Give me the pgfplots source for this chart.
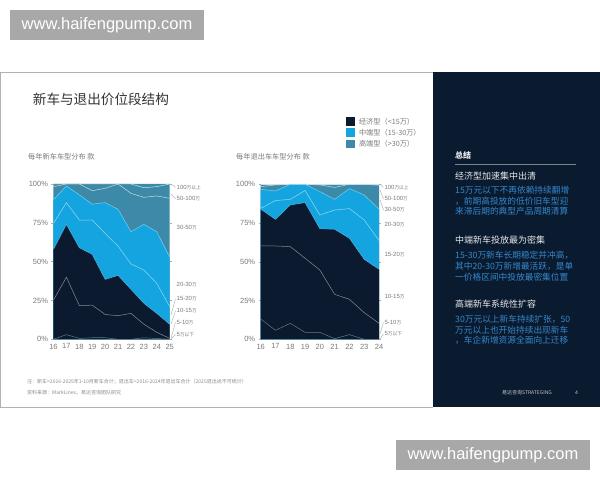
\documentclass[border=0pt]{standalone}
\usepackage{pgfplots}
\pgfplotsset{compat=1.18}
\usepackage{pgfplotstable}
\usepackage{fontspec}
\setmainfont{Liberation Sans}
\newfontfamily\cjk{Noto Sans CJK SC}
\definecolor{econ}{HTML}{0B1A2E}
\definecolor{mid}{HTML}{14A5E0}
\definecolor{high}{HTML}{3D8AA8}
\definecolor{panel}{HTML}{0B1B2F}
\definecolor{bluetxt}{HTML}{3388CC}
\definecolor{ltxt}{HTML}{7A7A7A}
\definecolor{wm}{HTML}{A8A8A8}

\pgfplotstableread{
yr a b c d e f g top
16 0 25.3 58 74.7 90 98.3 100 100
17 3 40 74 88 98.7 100 100 100
18 0.6 21.7 59 76.8 93 100 100 100
19 1 22 54.7 76.8 87 95.7 100 100
20 1 16 38.6 68.2 88 97.2 100 100
21 0 15.2 41.2 60 83.7 100 100 100
22 0 16.7 32.2 48.5 69.3 94 100 100
23 1 9.7 23.2 44.6 74 91.4 97.6 100
24 0.5 4.5 16.7 36 69.3 92.3 98.3 100
25 0 0.6 9.7 21 52.8 90.8 100 100
}\newcars

\pgfplotstableread{
yr a b c d e f g top
16 13.1 60.2 84 84.5 96.8 98.5 100 100
17 5.8 60.2 77.4 89.5 95.7 99.6 100 100
18 10.3 59.8 86.7 90.3 100 100 100 100
19 4.5 52.3 88.2 96 100 100 100 100
20 4.5 44.7 71.4 80.2 95.3 99.6 100 100
21 0.4 29 71 83.4 90.3 98 100 100
22 3 25.8 65.2 84.3 97.2 100 100 100
23 0 17.2 51.6 77 93.1 100 100 100
24 0 10.3 45.2 63.7 83.9 99.4 100 100
}\exitcars

\pgfplotsset{
  slide/.style={
    anchor=south west, scale only axis, clip=false,
    ymin=0, ymax=100, ytick={0,25,50,75,100},
    yticklabel={\pgfmathprintnumber{\tick}\%},
    /pgf/number format/assume math mode=true,
    axis line style={draw=none},
    xtick style={draw=none},
    ytick style={draw=ltxt!60, line width=0.4pt},
    tick align=outside, major tick length=2pt,
    ticklabel style={font=\fontsize{7.5}{8}\selectfont, text=ltxt},
    xticklabel style={yshift=1pt},
  },
}

\newcommand{\stackchart}[1]{%
  \addplot[fill=high, draw=none] table[x=yr,y=top]{#1} \closedcycle;
  \addplot[fill=mid, draw=none] table[x=yr,y=e]{#1} \closedcycle;
  \addplot[fill=econ, draw=none] table[x=yr,y=c]{#1} \closedcycle;
  \addplot[draw=white!75!high, line width=0.5pt] table[x=yr,y=g]{#1};
  \addplot[draw=white!70!high, line width=0.5pt] table[x=yr,y=f]{#1};
  \addplot[draw=white!45!mid, line width=0.5pt] table[x=yr,y=e]{#1};
  \addplot[draw=white!55!mid, line width=0.5pt] table[x=yr,y=d]{#1};
  \addplot[draw=white!25!mid, line width=0.5pt] table[x=yr,y=c]{#1};
  \addplot[draw=white!50!econ, line width=0.5pt] table[x=yr,y=b]{#1};
  \addplot[draw=white!40!econ, line width=0.5pt] table[x=yr,y=a]{#1};
}
% right-side label: digits in Latin font, CJK smaller
\newcommand{\lab}[2]{{\fontsize{6}{7}\selectfont #1{\cjk\fontsize{4.7}{6}\selectfont #2}}}

\begin{document}
\begin{tikzpicture}
\begin{scope}[x=1pt,y=1pt]
\useasboundingbox (0,0) rectangle (600,480);
\fill[white] (0,0) rectangle (600,480);
% watermarks
\fill[wm] (10,440) rectangle (204,470);
\node[text=white, font=\fontsize{16.5}{17}\selectfont] at (107,455) {www.haifengpump.com};
\fill[wm] (396,10) rectangle (590,40);
\node[text=white, font=\fontsize{16.5}{17}\selectfont] at (493,25) {www.haifengpump.com};
% slide frame
\draw[black!30, line width=0.8pt] (433,408) -- (0,408) -- (0,73) -- (433,73);
\fill[panel] (433,73) rectangle (600,408.4);

% title
\node[anchor=west, inner sep=0, text=black!80, font=\cjk\fontsize{13.6}{14}\selectfont] at (32.7,381) {新车与退出价位段结构};

% legend
\fill[econ] (346,354) rectangle (354.5,362.5);
\fill[mid] (346,343) rectangle (354.5,351.5);
\fill[high] (346,331.8) rectangle (354.5,340.3);
\begin{scope}[every node/.style={anchor=west, inner sep=0, text=ltxt, font=\cjk\fontsize{7.2}{8}\selectfont}]
\node at (358.8,358.3) {经济型（<15万）};
\node at (358.8,347.3) {中端型（15-30万）};
\node at (358.8,336) {高端型（>30万）};
\node at (28,323) {每年新车车型分布 款};
\node at (236,323) {每年退出车车型分布 款};
\end{scope}
\end{scope}

% chart 1
\begin{axis}[slide, at={(53.5pt,140.7pt)}, width=116.2pt, height=155.3pt,
  xmin=16, xmax=25, xtick={16,...,25}]
\stackchart{\newcars}
\end{axis}

% chart 2
\begin{axis}[slide, at={(260.7pt,140.7pt)}, width=118.3pt, height=155pt,
  xmin=16, xmax=24, xtick={16,...,24}]
\stackchart{\exitcars}
\end{axis}

\begin{scope}[x=1pt,y=1pt]
% right-side labels
\begin{scope}[every node/.style={anchor=west, inner sep=0, text=ltxt}]
\node at (176.5,292.7) {\lab{100}{万以上}};
\node at (176.5,281) {\lab{50-100}{万}};
\node at (176.5,252.7) {\lab{30-50}{万}};
\node at (176.5,195.7) {\lab{20-30}{万}};
\node at (176.5,181.3) {\lab{15-20}{万}};
\node at (176.5,169.3) {\lab{10-15}{万}};
\node at (176.5,157.7) {\lab{5-10}{万}};
\node at (176.5,145.7) {\lab{5}{万以下}};
\node at (384.3,292.7) {\lab{100}{万以上}};
\node at (384.3,281) {\lab{50-100}{万}};
\node at (384.3,270) {\lab{30-50}{万}};
\node at (384.3,255) {\lab{20-30}{万}};
\node at (384.3,225) {\lab{15-20}{万}};
\node at (384.3,183.3) {\lab{10-15}{万}};
\node at (384.3,157.7) {\lab{5-10}{万}};
\node at (384.3,146) {\lab{5}{万以下}};
\end{scope}
\begin{scope}[draw=ltxt!70, line width=0.35pt]
\draw (171,296) -- (175.5,292.7);
\draw (171,286) -- (175.5,281);
\draw (171,165) -- (175.5,181.3);
\draw (171,156) -- (175.5,169.3);
\draw (171,142) -- (175.5,157.7);
\draw (171,140.7) -- (175.5,145.7);
\draw (380,296) -- (383.5,292.7);
\draw (380,290) -- (383.5,281);
\draw (380,280) -- (383.5,270);
\draw (380,146) -- (383.5,157.7);
\draw (380,141) -- (383.5,146);
\end{scope}

% footnotes
\begin{scope}[every node/.style={anchor=west, inner sep=0, text=black!45, font=\cjk\fontsize{5}{5.5}\selectfont}]
\node at (27,98) {注：新车=2016-2025年1-10月新车合计；退出车=2016-2024年退出车合计（2025退出尚不可统计）};
\node at (27,87) {资料来源：MarkLines、易达咨询团队研究};
\end{scope}
\node[anchor=west, inner sep=0, text=white!75!panel, font=\cjk\fontsize{5}{5.5}\selectfont] at (502,87) {易达咨询STRATEGING};
\node[anchor=west, inner sep=0, text=white!75!panel, font=\fontsize{5}{5.5}\selectfont] at (575,87) {4};

% right panel text
\begin{scope}[every node/.style={anchor=west, inner sep=0}]
\node[text=white!92!panel, font=\cjk\fontsize{8}{9}\selectfont\bfseries] at (455,325) {总结};
\draw[white!45!panel, line width=0.8pt] (455,316) -- (576,316);
\node[text=white!90!panel, font=\cjk\fontsize{9}{9}\selectfont] at (455,304) {经济型加速集中出清};
\node[text=bluetxt, font=\cjk\fontsize{8.7}{9}\selectfont] at (455,290) {15万元以下不再依赖持续翻增};
\node[text=bluetxt, font=\cjk\fontsize{8.7}{9}\selectfont] at (455,279) {，前期高投放的低价旧车型迎};
\node[text=bluetxt, font=\cjk\fontsize{8.7}{9}\selectfont] at (455,268.3) {来滞后期的典型产品周期清算};
\node[text=white!90!panel, font=\cjk\fontsize{9}{9}\selectfont] at (455,240) {中端新车投放最为密集};
\node[text=bluetxt, font=\cjk\fontsize{8.7}{9}\selectfont] at (455,225) {15-30万新车长期稳定并冲高，};
\node[text=bluetxt, font=\cjk\fontsize{8.7}{9}\selectfont] at (455,214) {其中20-30万新增最活跃，是单};
\node[text=bluetxt, font=\cjk\fontsize{8.7}{9}\selectfont] at (455,203.3) {一价格区间中投放最密集位置};
\node[text=white!90!panel, font=\cjk\fontsize{9}{9}\selectfont] at (455,176) {高端新车系统性扩容};
\node[text=bluetxt, font=\cjk\fontsize{8.7}{9}\selectfont] at (455,161) {30万元以上新车持续扩张，50};
\node[text=bluetxt, font=\cjk\fontsize{8.7}{9}\selectfont] at (455,150) {万元以上也开始持续出现新车};
\node[text=bluetxt, font=\cjk\fontsize{8.7}{9}\selectfont] at (455,139.5) {，车企新增资源全面向上迁移};
\end{scope}
\end{scope}
\end{tikzpicture}
\end{document}
